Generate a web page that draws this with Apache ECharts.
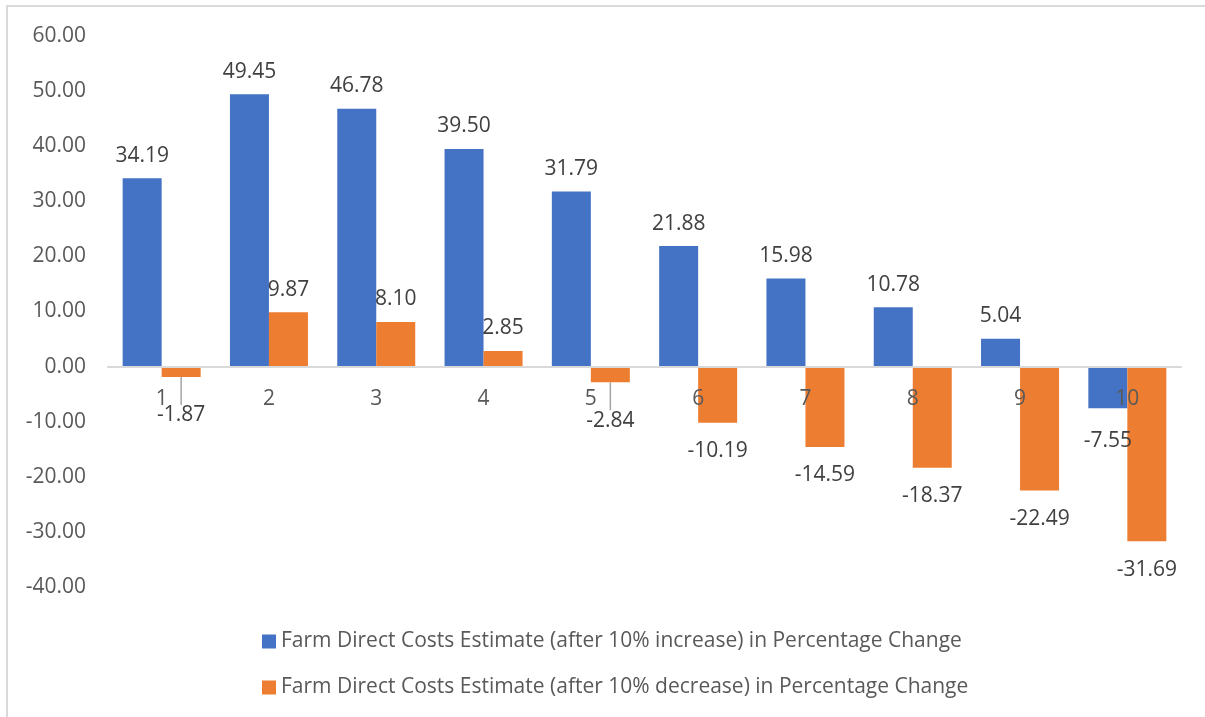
<!DOCTYPE html>
<html>
<head>
<meta charset="utf-8">
<script src="https://cdn.jsdelivr.net/npm/echarts@6/dist/echarts.min.js"></script>
<style>
  html, body { margin: 0; padding: 0; background: #fff; }
  #frame { position: absolute; left: 6px; top: 5px; width: 1199px; height: 712px;
           border-top: 2px solid #d9d9d9; border-left: 2px solid #d9d9d9; box-sizing: border-box; }
  #chart { position: absolute; left: 0; top: 0; width: 1205px; height: 717px; }
</style>
</head>
<body>
<div id="frame"></div>
<div id="chart"></div>
<script>
const categories = ['1', '2', '3', '4', '5', '6', '7', '8', '9', '10'];
const increaseValues = [34.19, 49.45, 46.78, 39.50, 31.79, 21.88, 15.98, 10.78, 5.04, -7.55];
const decreaseValues = [-1.87, 9.87, 8.10, 2.85, -2.84, -10.19, -14.59, -18.37, -22.49, -31.69];
const seriesNames = [
  'Farm Direct Costs Estimate (after 10% increase) in Percentage Change',
  'Farm Direct Costs Estimate (after 10% decrease) in Percentage Change'
];
const yTicks = { min: -40, max: 60, interval: 10 };

const FONT = 'Open Sans';
const FONT_SIZE = 21;
const TEXT = '#595959';
const LABEL = '#404040';

const GRID = { left: 108, right: 24, top: 36, bottom: 130 };
const CHART_H = 717;
const plotHeight = CHART_H - GRID.top - GRID.bottom;
// the category axis sits on the zero line of the value axis
const zeroOffset = -plotHeight * (0 - yTicks.min) / (yTicks.max - yTicks.min);

// a short negative bar pushes its label below the category text, with a leader line
const isShortNegative = v => v < 0 && v > -5;

function barItems(values, withLeaders) {
  return values.map(v => {
    const item = {
      value: v,
      label: { position: v >= 0 ? 'top' : 'bottom', distance: v >= 0 ? 12 : 18 }
    };
    if (withLeaders && isShortNegative(v)) item.labelLine = { show: true };
    return item;
  });
}

const chart = echarts.init(document.getElementById('chart'), null, { renderer: 'canvas' });

const labelStyle = {
  show: true,
  fontFamily: FONT,
  fontSize: FONT_SIZE,
  color: LABEL,
  formatter: p => p.value.toFixed(2)
};

chart.setOption({
  animation: false,
  textStyle: { fontFamily: FONT },
  grid: Object.assign({ containLabel: false }, GRID),
  legend: {
    orient: 'vertical',
    left: 257,
    top: 626,
    itemWidth: 14,
    itemHeight: 14,
    itemGap: 25,
    icon: 'rect',
    textStyle: { fontFamily: FONT, fontSize: FONT_SIZE, color: TEXT },
    data: seriesNames
  },
  xAxis: {
    type: 'category',
    data: categories,
    offset: zeroOffset,
    axisLine: { onZero: false, lineStyle: { color: '#d9d9d9', width: 2 } },
    axisTick: { show: false },
    axisLabel: { fontFamily: FONT, fontSize: FONT_SIZE, color: TEXT, margin: 22 },
    z: 10
  },
  yAxis: {
    type: 'value',
    min: yTicks.min,
    max: yTicks.max,
    interval: yTicks.interval,
    axisLine: { show: false },
    axisTick: { show: false },
    splitLine: { show: false },
    axisLabel: {
      fontFamily: FONT, fontSize: FONT_SIZE, color: TEXT, margin: 22,
      formatter: v => v.toFixed(2)
    }
  },
  series: [
    {
      name: seriesNames[0],
      type: 'bar',
      data: barItems(increaseValues, false),
      barWidth: 39,
      barGap: '0%',
      itemStyle: { color: '#4472c4' },
      label: labelStyle,
      labelLayout: params => increaseValues[params.dataIndex] < 0 ? { dy: 4 } : {}
    },
    {
      name: seriesNames[1],
      type: 'bar',
      data: barItems(decreaseValues, true),
      barWidth: 39,
      barGap: '0%',
      itemStyle: { color: '#ed7d31' },
      label: labelStyle,
      labelLine: { show: false, lineStyle: { color: '#a6a6a6', width: 1.5 } },
      labelLayout: params => isShortNegative(decreaseValues[params.dataIndex]) ? { dy: 10 } : {}
    }
  ]
});
</script>
</body>
</html>
